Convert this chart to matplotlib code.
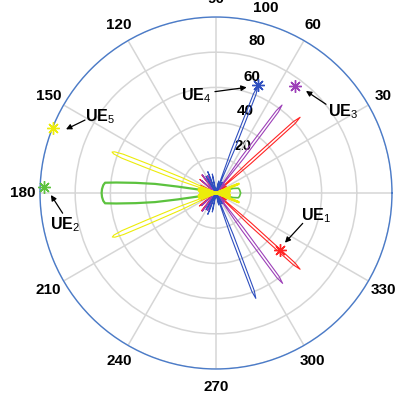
import numpy as np
import matplotlib
matplotlib.use("Agg")
import matplotlib.pyplot as plt

plt.rcParams['font.family'] = ['Liberation Sans', 'DejaVu Sans']
plt.rcParams['mathtext.fontset'] = 'custom'
plt.rcParams['mathtext.rm'] = 'Liberation Sans'

# ---- data (angles in deg, gain on the 0-100 radial scale)
ue_labels = ['UE$_1$', 'UE$_2$', 'UE$_3$', 'UE$_4$', 'UE$_5$']
ue_colors = ['#ff2424', '#5cc23e', '#9d3fb8', '#2f4fbf', '#ecec0a']
ue_theta = [-41.7, 177.9, 53.6, 68.7, 158.2]   # UE positions
ue_r = [48.7, 97.8, 75.6, 65.8, 100.0]

# main lobes (beam direction, peak) per UE
ue1_main_dir = [42.0, -42.2]
ue1_main_peak = [64.3, 64.5]
ue3_main_dir = [53.1, -53.6]
ue3_main_peak = [62.5, 63.8]
ue4_main_dir = [68.6, -69.3]
ue4_main_peak = [65.0, 64.0]
ue5_main_dir = [158.5, -157.0]
ue5_main_peak = [63.5, 64.0]

# small side / back lobes per UE
ue1_side_dir = [128, 140, 154, 206, 218, 231, 34, 50, -34, -50]
ue1_side_peak = [13, 12, 10, 10, 12, 13, 7, 7, 7, 7]
ue3_side_dir = [116, 127, 139, 221, 233, 244, 45, 61, -45, -61]
ue3_side_peak = [11, 13, 11, 11, 13, 11, 7, 7, 7, 7]
ue4_side_dir = [101, 111, 121, 239, 249, 259, 60, 77, -60, -77]
ue4_side_peak = [11, 13, 11, 11, 13, 11, 7, 7, 7, 7]
ue5_side_dir = [160, 164, 168, 172, 176, 180, 184, 188, 192, 196, 200,
                22, -22, 2, 6, 10, 14, -2, -6, -10, -14]
ue5_side_peak = [9, 10, 10, 10, 9, 9, 9, 10, 10, 10, 9,
                 14, 14, 7, 8, 8, 8, 7, 8, 8, 8]

# UE2 (green) wide end-fire lobe toward 180 deg and its back lobe toward 0 deg
ue2_main_dir = 180.0
ue2_main_off = [-16, -12, -9.5, -8.5, -7.2, -6, -5.3, -4, -2, 0, 2, 4, 5.3, 6, 7.2, 8.5, 9.5, 12, 16]
ue2_main_r = [0, 8, 22, 35, 46, 57, 63.3, 64.2, 64.8, 65, 64.8, 64.2, 63.3, 57, 46, 35, 22, 8, 0]
ue2_back_dir = 0.0
ue2_back_off = [-20, -15, -12, -8, 0, 8, 12, 15, 20]
ue2_back_r = [0, 10, 13, 13.5, 14, 13.5, 13, 10, 0]

# lobe outlines: offset from beam direction (deg) and level (fraction of peak)
pencil_off = [-4, -1.8, -1.0, -0.7, 0, 0.7, 1.0, 1.8, 4]
pencil_lvl = [0, 0.4, 0.7, 0.93, 1, 0.93, 0.7, 0.4, 0]
wide_off = [-7, -2.8, -1.7, -1.2, -0.6, 0, 0.6, 1.2, 1.7, 2.8, 7]
wide_lvl = [0, 0.34, 0.66, 0.9, 0.98, 1, 0.98, 0.9, 0.66, 0.34, 0]
side_off = [-2.5, -1.0, 0, 1.0, 2.5]
side_lvl = [0, 0.75, 1, 0.75, 0]

r_ticks = [20, 40, 60, 80, 100]
theta_ticks = list(range(0, 360, 30))
theta_labels = [''] + [str(a) for a in theta_ticks[1:]]   # 0 falls outside the picture

# ---- figure
fig = plt.figure(figsize=(4.06, 4.0), dpi=100)
ax = fig.add_axes([40 / 406, 31 / 400, 352 / 406, 352 / 400], projection='polar')
ax.set_rlim(0, 100)
ax.set_rticks(r_ticks)
ax.set_yticklabels([])
ax.set_thetagrids(theta_ticks, labels=[''] * len(theta_ticks))
ax.grid(color='#d6d6d6', lw=1.1)
ax.spines['polar'].set_color('#4a7bc9')
ax.spines['polar'].set_linewidth(1.0)
ax.tick_params(length=0)

def lobes(dirs, peaks, off, lvl, color, lw=0.8):
    for d, p in zip(dirs, peaks):
        th = np.radians(d + np.array(off))
        ax.plot(th, p * np.array(lvl), color=color, lw=lw, zorder=3)

# UE1 red
lobes(ue1_side_dir, ue1_side_peak, side_off, side_lvl, ue_colors[0])
lobes(ue1_main_dir, ue1_main_peak, pencil_off, pencil_lvl, ue_colors[0])
# UE2 green
ax.plot(np.radians(ue2_main_dir + np.array(ue2_main_off)), ue2_main_r, color=ue_colors[1], lw=1.6, zorder=3)
ax.plot(np.radians(ue2_back_dir + np.array(ue2_back_off)), ue2_back_r, color=ue_colors[1], lw=1.2, zorder=3)
# UE3 purple
lobes(ue3_side_dir, ue3_side_peak, side_off, side_lvl, ue_colors[2])
lobes(ue3_main_dir, ue3_main_peak, pencil_off, pencil_lvl, ue_colors[2])
# UE4 blue
lobes(ue4_side_dir, ue4_side_peak, side_off, side_lvl, ue_colors[3])
lobes(ue4_main_dir, ue4_main_peak, pencil_off, pencil_lvl, ue_colors[3])
# UE5 yellow
lobes(ue5_side_dir, ue5_side_peak, side_off, side_lvl, ue_colors[4], lw=1.6)
lobes(ue5_main_dir, ue5_main_peak, wide_off, wide_lvl, ue_colors[4])

# UE markers
for t, r, c in zip(ue_theta, ue_r, ue_colors):
    ax.plot(np.radians(t), r, marker=(8, 2, 0), ms=9, mew=1.0, color=c, zorder=4, clip_on=False)

# angle labels
for a, lab in zip(theta_ticks, theta_labels):
    if lab:
        ax.text(np.radians(a), 110, lab, ha='center', va='center', fontsize=11,
                fontweight='bold', clip_on=False, zorder=1)

# radial labels
r_lab_theta = [60.6, 70.2, 73.0, 75.0, 75.0]
r_lab_r = [30.7, 49.4, 69.2, 89.4, 109.1]
for v, t, r in zip(r_ticks, r_lab_theta, r_lab_r):
    ax.text(np.radians(t), r, str(v), ha='center', va='center', fontsize=11,
            fontweight='bold', clip_on=False, zorder=1)

# UE annotations: text position, arrow tail, arrow head (theta deg, r)
txt_pos = [(-12.95, 58.3), (192.0, 87.7), (32.5, 85.6), (101.6, 56.3), (146.6, 79.0)]
arr_tail = [(-19.3, 52.2), (187.5, 87.9), (38.9, 80.3), (90.6, 57.6), (150.9, 85.2)]
arr_head = [(-35.8, 48.3), (180.7, 93.8), (48.6, 77.3), (73.8, 62.5), (157.0, 92.6)]
for lab, tp, ta, hd in zip(ue_labels, txt_pos, arr_tail, arr_head):
    ax.text(np.radians(tp[0]), tp[1], lab, ha='center', va='center', fontsize=11.5,
            fontweight='bold', zorder=5)
    ax.annotate('', xy=(np.radians(hd[0]), hd[1]), xytext=(np.radians(ta[0]), ta[1]),
                arrowprops=dict(arrowstyle='-|>', color='k', lw=0.9, mutation_scale=8,
                                shrinkA=0, shrinkB=0), zorder=5)

fig.savefig('out.png', dpi=100)
